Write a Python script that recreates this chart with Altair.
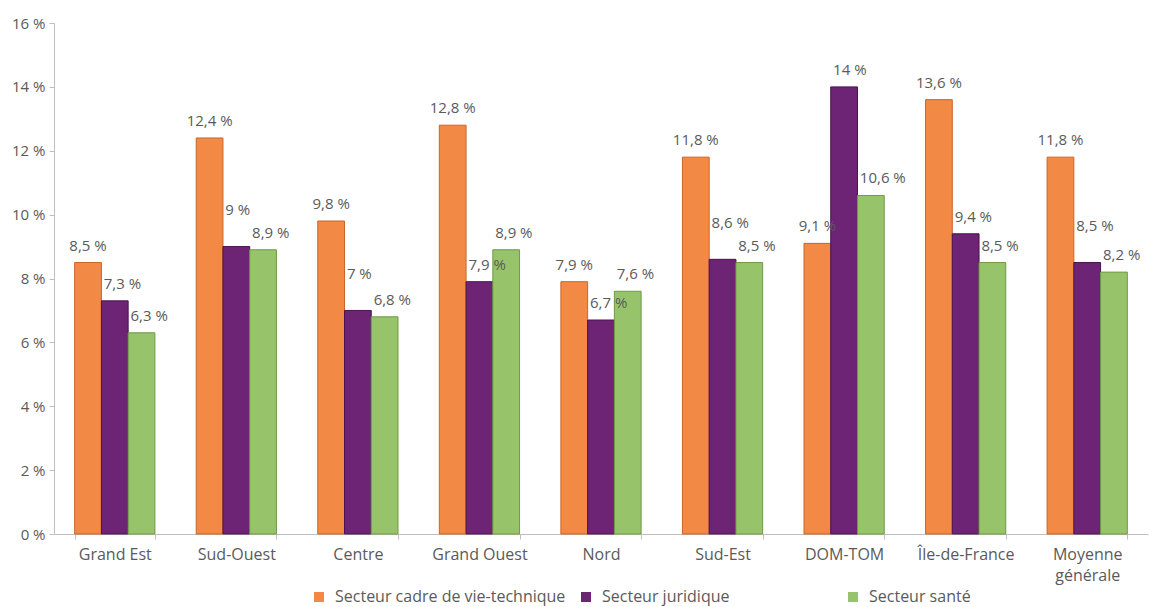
import altair as alt
import pandas as pd

regions = ["Grand Est", "Sud-Ouest", "Centre", "Grand Ouest", "Nord", "Sud-Est",
           "DOM-TOM", "Île-de-France", "Moyenne générale"]
series = ["Secteur cadre de vie-technique", "Secteur juridique", "Secteur santé"]
cadre = [8.5, 12.4, 9.8, 12.8, 7.9, 11.8, 9.1, 13.6, 11.8]
juridique = [7.3, 9.0, 7.0, 7.9, 6.7, 8.6, 14.0, 9.4, 8.5]
sante = [6.3, 8.9, 6.8, 8.9, 7.6, 8.5, 10.6, 8.5, 8.2]
colors = ["#F28A45", "#6E2474", "#97C46A"]
strokes = ["#C8652A", "#4A1250", "#6E9A47"]

rows = []
for i, r in enumerate(regions):
    for k, (s, vals) in enumerate(zip(series, [cadre, juridique, sante])):
        v = vals[i]
        pos = v
        # lift the juridique label when it would collide with the santé label next to it
        if k == 1 and abs(juridique[i] - sante[i]) < 0.5:
            pos = max(juridique[i], sante[i]) + 0.6
        rows.append({"region": r, "serie": s, "value": v, "labelpos": pos,
                     "left": k > 0})
df = pd.DataFrame(rows)

FONT = "Open Sans"
GRAY = "#5A5A5A"

base = alt.Chart(df).transform_calculate(
    label="replace(format(datum.value, '.1~f'), '.', ',') + ' %'"
)

x = alt.X("region:N", sort=regions, title=None,
          scale=alt.Scale(paddingInner=0.34, paddingOuter=0.17),
          axis=alt.Axis(labelAngle=0, tickBand="extent", domainColor="#BFBFBF",
                        tickColor="#BFBFBF", tickSize=5, labelPadding=7,
                        labelFont=FONT, labelFontSize=16, labelColor=GRAY,
                        labelLineHeight=21,
                        labelExpr="datum.value == 'Moyenne générale' ? ['Moyenne', 'générale'] : datum.value"))
xoff = alt.XOffset("serie:N", sort=series, scale=alt.Scale(paddingInner=0))

bars = base.mark_bar(strokeWidth=1).encode(
    x=x,
    xOffset=xoff,
    y=alt.Y("value:Q", title=None,
            scale=alt.Scale(domain=[0, 16]),
            axis=alt.Axis(values=[0, 2, 4, 6, 8, 10, 12, 14, 16], grid=False,
                          domainColor="#BFBFBF", tickColor="#BFBFBF", tickSize=5,
                          labelPadding=4, labelFont=FONT, labelFontSize=15,
                          labelColor=GRAY, labelExpr="datum.value + ' %'")),
    color=alt.Color("serie:N", sort=series,
                    scale=alt.Scale(domain=series, range=colors),
                    legend=alt.Legend(title=None, orient="none", direction="horizontal",
                                      columns=3, gridAlign="all",
                                      legendX=257, legendY=566, symbolType="square",
                                      symbolSize=100, symbolStrokeWidth=0,
                                      labelFont=FONT, labelFontSize=16, labelColor=GRAY,
                                      labelLimit=0, columnPadding=12, padding=0,
                                      labelOffset=8)),
    stroke=alt.Stroke("serie:N", sort=series,
                      scale=alt.Scale(domain=series, range=strokes), legend=None),
)

text_enc = dict(
    x=alt.X("region:N", sort=regions),
    xOffset=alt.XOffset("serie:N", sort=series),
    y="labelpos:Q",
    text="label:N",
)

texts_center = base.transform_filter("!datum.left").mark_text(
    baseline="bottom", dy=-9, align="center", font=FONT, fontSize=15, color=GRAY
).encode(**text_enc)

texts_left = base.transform_filter("datum.left").mark_text(
    baseline="bottom", dy=-9, dx=-11, align="left", font=FONT, fontSize=15, color=GRAY
).encode(**text_enc)

chart = alt.layer(bars, texts_center, texts_left).properties(
    width=1094, height=511,
    autosize=alt.AutoSizeParams(type="none"),
    padding={"left": 54, "top": 23, "right": 4, "bottom": 73},
    background="white",
).configure_view(stroke=None)

chart.save("out.html", embed_options={"renderer": "svg", "actions": False})
